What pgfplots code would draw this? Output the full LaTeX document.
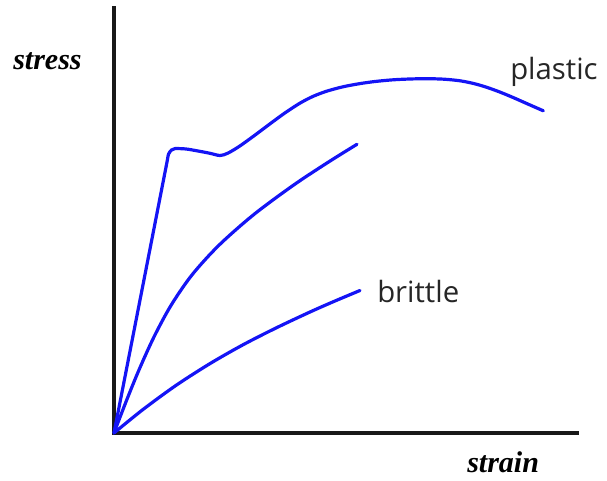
\documentclass[border=0pt]{standalone}
\usepackage{fontspec}
\setmainfont{Liberation Serif}
\newfontfamily\sansf{Open Sans}
\usepackage{pgfplots}
\pgfplotsset{compat=1.18}
\definecolor{curve}{RGB}{20,20,245}
\begin{document}
\begin{tikzpicture}
\begin{axis}[
  x=0.75pt, y=0.75pt,
  xmin=0, xmax=463, ymin=0, ymax=425,
  axis lines=left,
  axis line style={-, line width=2.3pt, black!90, line cap=rect},
  ticks=none,
  clip=false,
  scale only axis,
]
\path (axis cs:-114,-48) rectangle (axis cs:493,433);
% plastic
\addplot[curve, line width=2.4pt, line join=round, line cap=round] coordinates {(0,0) (53.4,273)};
\addplot[curve, line width=2.4pt, smooth, line join=round, line cap=round] coordinates {
(53.4,273) (54.6,279) (57.5,283) (61,284.4) (72,284) (84,282) (96,279.7) (106,277.5) (114,279.9) (126,287.1) (141,297.9) (156,309.15) (171,320.1) (186,329.85) (199,336.6) (212.7,341.8) (229,346.2) (246,349.4) (262,351.6) (279.3,353.2) (296,354.0) (312.7,354.3) (330,353.8) (346,352.2) (360,349.4) (372.7,345.7) (386,340.9) (399.3,335.4) (414,328.9) (429.3,322.2)
};
% middle
\addplot[curve, line width=2.4pt, smooth, line cap=round] coordinates {
(0,0) (12,31.2) (25,63.1) (40,96.1) (57,127.6) (78,158.1) (105,187.8) (140,218.6) (180,248.2) (215,271.3) (243,288.7)
};
% brittle
\addplot[curve, line width=2.4pt, smooth, line cap=round] coordinates {
(0,0) (29,23.5) (62,47.6) (96,69.4) (129,88.2) (162,105) (196,121) (221,132) (246,142.5)
};
\node[anchor=base west, inner sep=0] at (axis cs:-101,363) {\fontsize{22.5}{26}\selectfont\bfseries\itshape stress};
\node[anchor=base west, inner sep=0] at (axis cs:353,-40) {\fontsize{22.5}{26}\selectfont\bfseries\itshape strain};
\node[anchor=base west, inner sep=0, text=black!85] at (axis cs:396,353) {\sansf\fontsize{22}{26}\selectfont plastic};
\node[anchor=base west, inner sep=0, text=black!85] at (axis cs:263,130) {\sansf\fontsize{22}{26}\selectfont brittle};
\end{axis}
\end{tikzpicture}
\end{document}
